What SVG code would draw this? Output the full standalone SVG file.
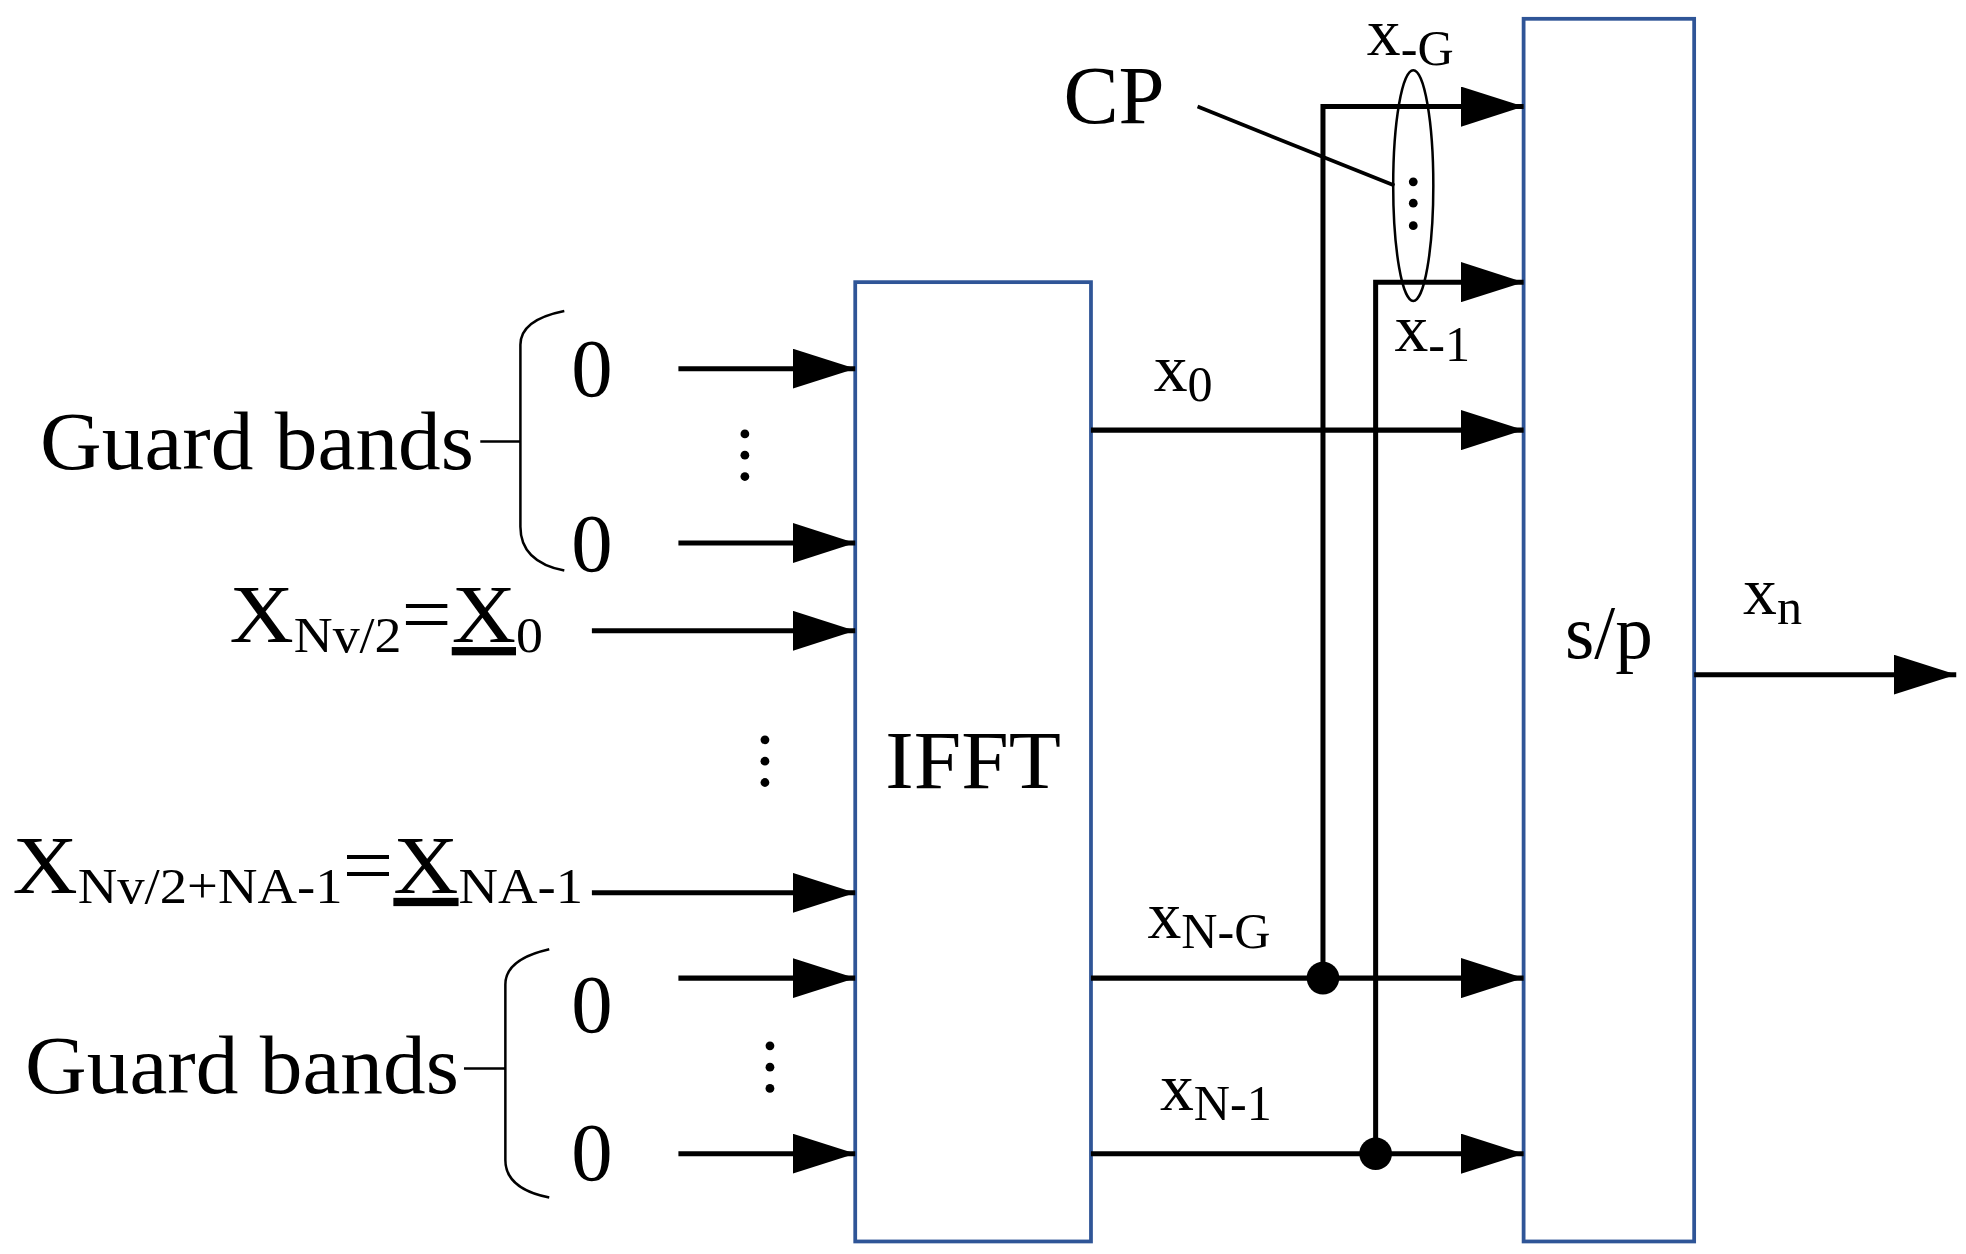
<svg xmlns="http://www.w3.org/2000/svg" width="1966" height="1254" viewBox="0 0 1966 1254">
<defs>
<style>
.t{font-family:"Liberation Serif","Times New Roman",serif;fill:#000}
.b{font-size:66px}.s{font-size:40px}
.ln{stroke:#000;stroke-width:4;fill:none}
.box{fill:#fff;stroke:#2f5597;stroke-width:3}
</style>
<marker id="a" viewBox="0 0 50 32" refX="50" refY="16" markerWidth="50" markerHeight="32" markerUnits="userSpaceOnUse" orient="auto"><path d="M0,0L50,16L0,32z" fill="#000"/></marker>
</defs>
<rect width="1966" height="1254" fill="#fff"/>
<g transform="scale(1.254)">
<g id="ifft"><rect class="box" x="682" y="225" width="188" height="765"/><text class="t b" x="776" y="628" text-anchor="middle" textLength="140" lengthAdjust="spacingAndGlyphs">IFFT</text></g>
<g id="sp"><rect class="box" x="1215" y="15" width="136" height="975"/><text class="t" font-size="60" x="1283" y="525" text-anchor="middle">s/p</text></g>
<g id="connectors" class="ln">
<g marker-end="url(#a)">
<path d="M541,294H682"/><path d="M541,433H682"/><path d="M472,503H682"/><path d="M472,712H682"/><path d="M541,780H682"/><path d="M541,920H682"/>
<path d="M870,343H1215"/><path d="M870,780H1215"/><path d="M870,920H1215"/><path d="M1055,780V85H1215"/><path d="M1097,920V225H1215"/><path d="M1351,538H1560"/>
</g>
<path d="M955,85L1112,148" stroke-width="3"/>
<path d="M450,248Q415,255 415,275V420Q415,448 450,455M383,352H415" stroke-width="2"/>
<path d="M438,757Q403,765 403,785V925Q403,948 438,955M370,852H403" stroke-width="2"/>
<ellipse cx="1127" cy="148" rx="16" ry="92" stroke-width="2"/>
</g>
<g id="dots" fill="#000">
<circle cx="1055" cy="780" r="13"/><circle cx="1097" cy="920" r="13"/>
<circle cx="1127" cy="145" r="3.5"/><circle cx="1127" cy="162" r="3.5"/><circle cx="1127" cy="180" r="3.5"/>
<circle cx="594" cy="346" r="3.5"/><circle cx="594" cy="363" r="3.5"/><circle cx="594" cy="380" r="3.5"/>
<circle cx="610" cy="590" r="3.5"/><circle cx="610" cy="607" r="3.5"/><circle cx="610" cy="624" r="3.5"/>
<circle cx="614" cy="834" r="3.5"/><circle cx="614" cy="851" r="3.5"/><circle cx="614" cy="868" r="3.5"/>
</g>
<g id="labels">
<text class="t b" x="472" y="316" text-anchor="middle">0</text>
<text class="t b" x="472" y="455" text-anchor="middle">0</text>
<text class="t b" x="472" y="823" text-anchor="middle">0</text>
<text class="t b" x="472" y="941" text-anchor="middle">0</text>
<text class="t b" x="32" y="374" textLength="346" lengthAdjust="spacingAndGlyphs">Guard bands</text>
<text class="t b" x="20" y="872" textLength="346" lengthAdjust="spacingAndGlyphs">Guard bands</text>
<text class="t b" x="183" y="512" textLength="250" lengthAdjust="spacingAndGlyphs">X<tspan class="s" dy="8">Nv/2</tspan><tspan dy="-8">=</tspan><tspan text-decoration="underline">X</tspan><tspan class="s" dy="8">0</tspan></text>
<text class="t b" x="10" y="712" textLength="455" lengthAdjust="spacingAndGlyphs">X<tspan class="s" dy="8">Nv/2+NA-1</tspan><tspan dy="-8">=</tspan><tspan text-decoration="underline">X</tspan><tspan class="s" dy="8">NA-1</tspan></text>
<text class="t b" x="848" y="98">CP</text>
<text class="t" font-size="54" x="1090" y="44">x<tspan class="s" dy="8">-G</tspan></text>
<text class="t" font-size="54" x="1112" y="280">x<tspan class="s" dy="8">-1</tspan></text>
<text class="t" font-size="54" x="920" y="312">x<tspan class="s" dy="8">0</tspan></text>
<text class="t" font-size="54" x="915" y="748">x<tspan class="s" dy="8">N-G</tspan></text>
<text class="t" font-size="54" x="925" y="885">x<tspan class="s" dy="8">N-1</tspan></text>
<text class="t" font-size="54" x="1390" y="490">x<tspan class="s" dy="8">n</tspan></text>
</g>
</g>
</svg>
